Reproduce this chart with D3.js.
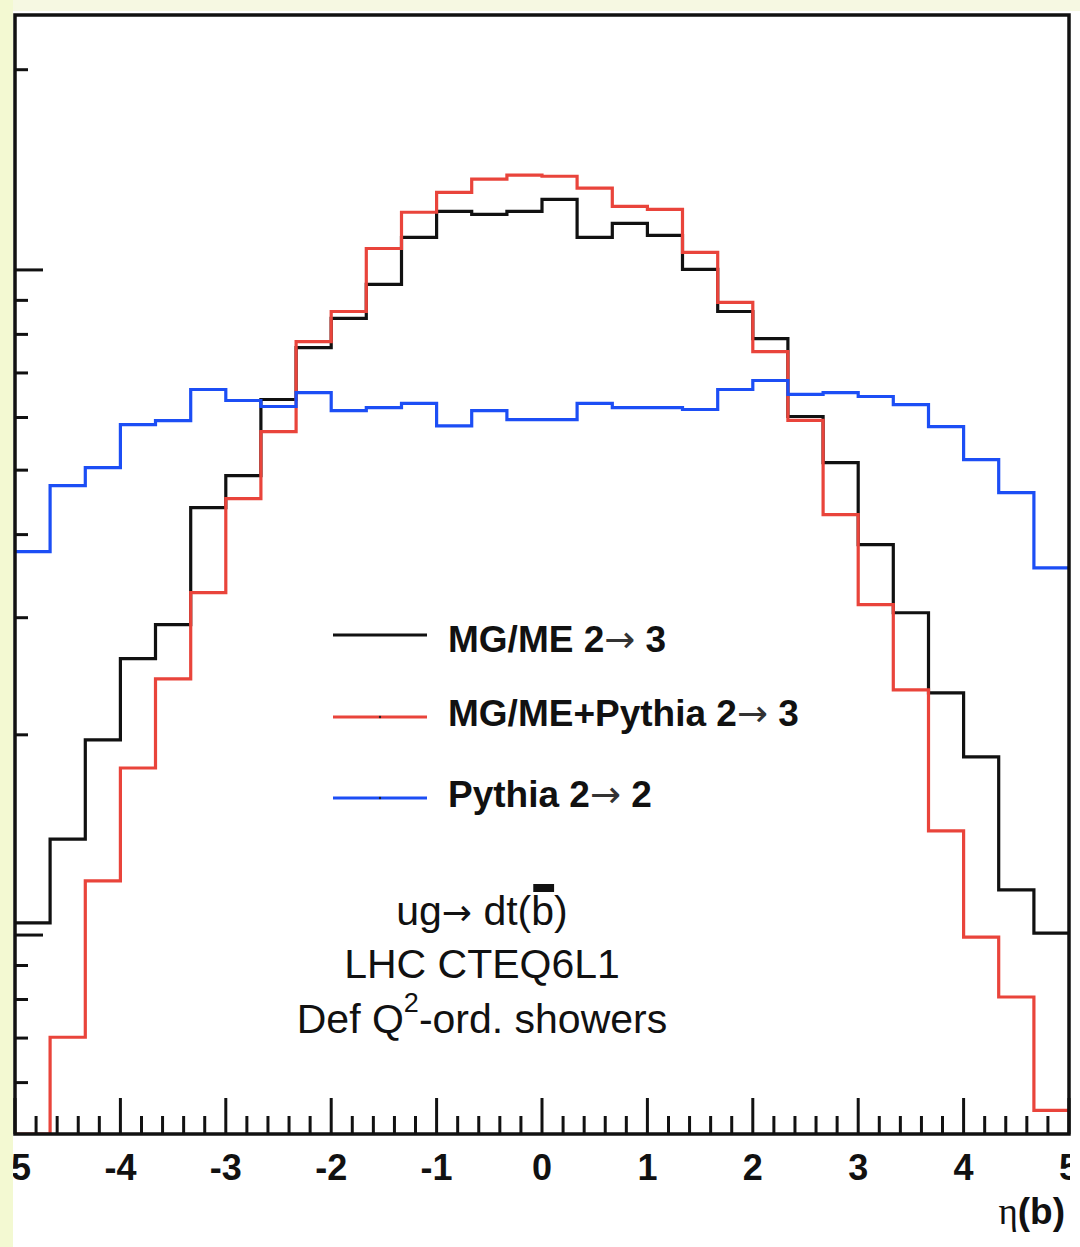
<!DOCTYPE html>
<html><head><meta charset="utf-8">
<script src="https://cdn.jsdelivr.net/npm/d3@7"></script>
<style>html,body{margin:0;padding:0;background:#fff;} svg{display:block}</style>
</head><body>
<svg id="c" width="1080" height="1247"></svg>
<script>
// ---- data (arbitrary units, log scale) ----
const binEdges = [-5.000,-4.667,-4.333,-4.000,-3.667,-3.333,-3.000,-2.667,-2.333,-2.000,
  -1.667,-1.333,-1.000,-0.667,-0.333,0.000,0.333,0.667,1.000,1.333,1.667,2.000,2.333,
  2.667,3.000,3.333,3.667,4.000,4.333,4.667,5.000];
const mgme = [1.043,1.394,1.966,2.603,2.928,4.391,4.906,6.385,7.644,8.453,
  9.511,11.19,12.25,12.12,12.25,12.77,11.19,11.75,11.27,10.02,
  8.66,7.886,6.02,5.132,3.863,3.052,2.313,1.853,1.169,1.007];
const mgmePythia = [0.40,0.702,1.206,1.783,2.428,3.271,4.531,5.715,7.804,8.66,
  10.77,12.21,13.08,13.69,13.88,13.83,13.27,12.46,12.33,10.63,
  8.935,7.539,5.94,4.286,3.138,2.337,1.434,0.993,0.807,0.545];
const pythia22 = [3.771,4.740,5.044,5.855,5.936,6.610,6.363,6.232,6.541,6.146,
  6.210,6.300,5.830,6.146,5.957,5.957,6.300,6.210,6.210,6.168,
  6.610,6.819,6.500,6.540,6.452,6.275,5.814,5.186,4.627,3.566];
const seriesNames = ["MG/ME 2", "MG/ME+Pythia 2", "Pythia 2"];
const seriesTargets = ["3", "3", "2"];
const seriesColors = ["#111111", "#e9443b", "#1c4ef5"];
const xTickValues = [-5,-4,-3,-2,-1,0,1,2,3,4,5];
const xTickLabels = ["-5","-4","-3","-2","-1","0","1","2","3","4","5"];
const yMajorTicks = [1, 10];
const yMinorTicks = [0.6,0.7,0.8,0.9,2,3,4,5,6,7,8,9,20];
const annotation = ["LHC CTEQ6L1"];

// ---- layout ----
const L = 15, R = 1069, T = 15, B = 1134;
const svg = d3.select("#c");
const x = d3.scaleLinear().domain([-5, 5]).range([L, R]);
const y = d3.scaleLog().domain([0.5022, 24.17]).range([B, T]).clamp(true);

svg.append("rect").attr("width",1080).attr("height",1247).attr("fill","#fff");

const defs = svg.append("defs");
defs.append("clipPath").attr("id","plotclip").append("rect")
  .attr("x",L).attr("y",T).attr("width",R-L).attr("height",B-T);
defs.append("clipPath").attr("id","labclip").append("rect")
  .attr("x",0).attr("y",0).attr("width",R+1).attr("height",1247);

// histograms
const series = [mgme, mgmePythia, pythia22];
const line = d3.line().x(d => x(d[0])).y(d => y(d[1])).curve(d3.curveStepAfter);
const hg = svg.append("g").attr("clip-path","url(#plotclip)");
series.forEach((vals, si) => {
  const pts = vals.map((v, i) => [binEdges[i], v]);
  pts.push([binEdges[binEdges.length-1], vals[vals.length-1]]);
  hg.append("path").attr("d", line(pts)).attr("fill","none")
    .attr("stroke", seriesColors[si]).attr("stroke-width", 3.2)
    .attr("stroke-linejoin","miter");
});

// frame
svg.append("rect").attr("x",L).attr("y",T).attr("width",R-L).attr("height",B-T)
  .attr("fill","none").attr("stroke","#111").attr("stroke-width",3.5);

// x ticks
const xMinor = d3.range(-50, 51, 2).map(d => d/10).filter(d => !xTickValues.includes(d));
const tg = svg.append("g").attr("stroke","#111").attr("stroke-width",3);
xTickValues.forEach(v => tg.append("line").attr("x1",x(v)).attr("x2",x(v)).attr("y1",B).attr("y2",B-36));
xMinor.forEach(v => tg.append("line").attr("x1",x(v)).attr("x2",x(v)).attr("y1",B).attr("y2",B-18));
// y ticks
yMajorTicks.forEach(v => tg.append("line").attr("x1",L).attr("x2",L+28).attr("y1",y(v)).attr("y2",y(v)));
yMinorTicks.forEach(v => tg.append("line").attr("x1",L).attr("x2",L+13).attr("y1",y(v)).attr("y2",y(v)));

// x tick labels
const lg = svg.append("g").attr("clip-path","url(#labclip)");
xTickValues.forEach((v, i) => {
  lg.append("text").attr("x", x(v)).attr("y", 1180).attr("text-anchor","middle")
    .attr("font-family","'Liberation Sans', Arial, sans-serif").attr("font-weight","bold")
    .attr("font-size",36).attr("fill","#111").text(xTickLabels[i]);
});

// axis title eta(b)
const at = svg.append("text").attr("x",1065).attr("y",1224).attr("text-anchor","end")
  .attr("font-size",37).attr("fill","#111");
at.append("tspan").attr("font-family","'Liberation Serif', 'DejaVu Serif', serif").text("η");
at.append("tspan").attr("font-family","'Liberation Sans', Arial, sans-serif").attr("font-weight","bold").text("(b)");

// legend
const legY = [635, 717, 798];
const legBase = [652, 726, 807];
series.forEach((s, i) => {
  svg.append("line").attr("x1",333).attr("x2",427).attr("y1",legY[i]).attr("y2",legY[i])
    .attr("stroke",seriesColors[i]).attr("stroke-width",3);
  if (i > 0) svg.append("circle").attr("cx",380).attr("cy",legY[i]).attr("r",1.2).attr("fill","#222");
  const t = svg.append("text").attr("x",448).attr("y",legBase[i])
    .attr("font-family","'Liberation Sans', Arial, sans-serif").attr("font-size",37).attr("fill","#111");
  t.append("tspan").attr("font-weight","bold").text(seriesNames[i]);
  t.append("tspan").attr("font-weight","normal").attr("font-family","'DejaVu Sans', sans-serif")
    .attr("font-size",37).attr("fill","#333").text("→");
  t.append("tspan").attr("font-weight","bold").text(" " + seriesTargets[i]);
});

// annotation
const af = "'Liberation Sans', Arial, sans-serif";
const cx = 482;
const t1 = svg.append("text").attr("x",cx).attr("y",925).attr("text-anchor","middle")
  .attr("font-family",af).attr("font-size",41).attr("fill","#111");
t1.append("tspan").text("ug");
t1.append("tspan").attr("font-family","'DejaVu Sans', sans-serif").attr("font-size",36).text("→");
t1.append("tspan").text(" dt(b)");
// overline on b
{
  const node = t1.node();
  const n = node.getNumberOfChars();
  const iB = n - 2;
  const s = node.getStartPositionOfChar(iB), e = node.getEndPositionOfChar(iB);
  svg.append("rect").attr("x", s.x + 2).attr("y", 884).attr("width", Math.max(4, e.x - s.x - 2))
    .attr("height", 8).attr("fill","#111");
}
svg.append("text").attr("x",cx).attr("y",978).attr("text-anchor","middle")
  .attr("font-family",af).attr("font-size",41).attr("fill","#111").text(annotation[0]);
const t3 = svg.append("text").attr("x",cx).attr("y",1033).attr("text-anchor","middle")
  .attr("font-family",af).attr("font-size",41).attr("fill","#111");
t3.append("tspan").text("Def Q");
t3.append("tspan").attr("font-size",27).attr("dy",-21).text("2");
t3.append("tspan").attr("dy",21).text("-ord. showers");

// slide background strips
svg.append("rect").attr("x",0).attr("y",0).attr("width",1080).attr("height",11).attr("fill","#f6f8e2");
svg.append("rect").attr("x",0).attr("y",0).attr("width",13).attr("height",1247).attr("fill","#f3f9d2");
</script>
</body></html>
